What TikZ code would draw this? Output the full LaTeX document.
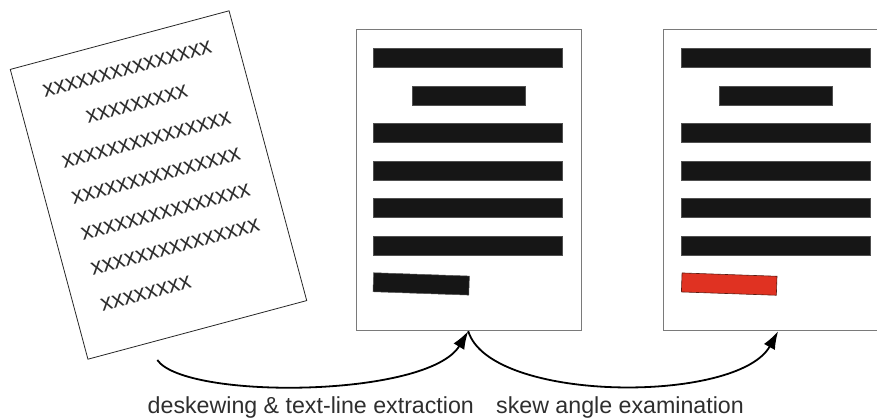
\documentclass[tikz,border=0pt]{standalone}
\usepackage{fontspec}
\setmainfont{Liberation Sans}
\usetikzlibrary{arrows.meta}
\definecolor{barblack}{HTML}{161616}
\definecolor{baredge}{HTML}{505050}
\definecolor{pageedge}{HTML}{7A7A7A}
\definecolor{txt}{HTML}{2E2E2E}
\definecolor{redbar}{HTML}{E03222}
\definecolor{rededge}{HTML}{5A1A10}
\tikzset{
  pagebox/.style={draw=pageedge, line width=0.9pt, fill=white, inner sep=0pt, minimum width=225.5pt, minimum height=301.4pt},
  skewpage/.style={draw=black!85, line width=0.8pt, fill=white, inner sep=0pt, minimum width=226.5pt, minimum height=300pt},
  bar/.style={fill=barblack, draw=baredge, line width=0.5pt, inner sep=0pt, minimum height=19pt},
  redbarbox/.style={fill=redbar, draw=rededge, line width=0.6pt, inner sep=0pt, minimum height=19pt},
  xline/.style={inner sep=0pt, text=txt, font=\fontsize{23.2}{28}\selectfont, transform shape},
  lbl/.style={inner sep=0pt, text=txt, font=\fontsize{23.2}{28}\selectfont},
  arr/.style={line width=1.8pt, black, -{Latex[length=18pt,width=12.5pt]}}
}
\begin{document}
\begin{tikzpicture}[x=1pt,y=-1pt]
\useasboundingbox (0,0) rectangle (877,419);
\clip (0,0) rectangle (877,419);
% skewed input page
\node[skewpage, rotate=15] (skew) at (158.5,185) {};
\begin{scope}[shift={(158.5,185)}, rotate=15]
  \node[xline] (l1) at (0,-120.5) {xxxxxxxxxxxxxxx};
  \node[xline] (l2) at (0,-83.45) {xxxxxxxxx};
  \node[xline] (l3) at (0,-46.4) {xxxxxxxxxxxxxxx};
  \node[xline] (l4) at (0,-9.35) {xxxxxxxxxxxxxxx};
  \node[xline] (l5) at (0,27.7) {xxxxxxxxxxxxxxx};
  \node[xline] (l6) at (0,64.75) {xxxxxxxxxxxxxxx};
  \node[xline, anchor=west] (l7) at (-87,101.8) {xxxxxxxx};
\end{scope}
% middle page
\node[pagebox] (mid) at (468.75,180) {};
\node[bar, minimum width=189.4pt] (m1) at (468,58.2) {};
\node[bar, minimum width=113.3pt] (m2) at (468.4,95.65) {};
\node[bar, minimum width=189.4pt] (m3) at (468,133.1) {};
\node[bar, minimum width=189.4pt] (m4) at (468,170.55) {};
\node[bar, minimum width=189.4pt] (m5) at (468,208) {};
\node[bar, minimum width=189.4pt] (m6) at (468,245.45) {};
\node[bar, minimum width=95.8pt, rotate=-2] (m7) at (421.2,283.9) {};
% right page
\node[pagebox, minimum width=224.7pt] (rgt) at (775.65,180) {};
\node[bar, minimum width=189pt] (r1) at (776.2,58.2) {};
\node[bar, minimum width=113.4pt] (r2) at (776,95.65) {};
\node[bar, minimum width=189pt] (r3) at (776.2,133.1) {};
\node[bar, minimum width=189pt] (r4) at (776.2,170.55) {};
\node[bar, minimum width=189pt] (r5) at (776.2,208) {};
\node[bar, minimum width=189pt] (r6) at (776.2,245.45) {};
\node[redbarbox, minimum width=95pt, rotate=-2] (r7) at (729.2,284.1) {};
% arrows
\coordinate (a1start) at (157.3,360);
\draw[arr] (a1start) .. controls (185,400) and (428,398) .. ([xshift=-0.5pt]mid.south);
\draw[arr] ([xshift=-0.5pt]mid.south) .. controls (490,403) and (738,404) .. ([xshift=2.5pt]rgt.south);
% labels
\node[lbl, anchor=base west] (t1) at (147.5,413.3) {deskewing \& text-line extraction};
\node[lbl, anchor=base west] (t2) at (496,413.3) {skew angle examination};
\end{tikzpicture}
\end{document}
